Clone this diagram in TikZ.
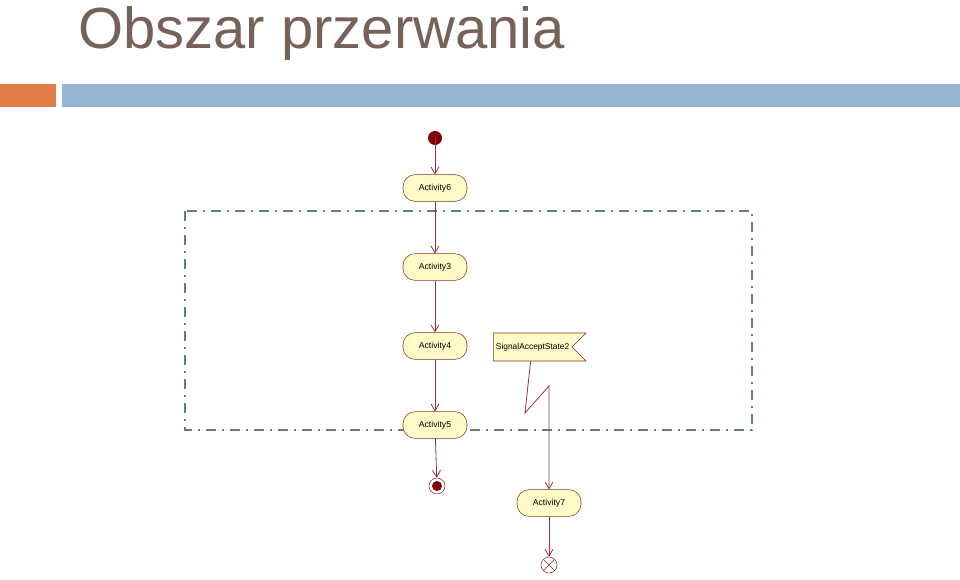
\documentclass[tikz,border=0pt]{standalone}
\usepackage{fontspec}
\setmainfont{Liberation Sans}
\usetikzlibrary{shapes.symbols,arrows.meta}
\begin{document}
\begin{tikzpicture}[x=0.75pt, y=-0.75pt,
    activity/.style={draw=colorEdge, fill=colorFill, rounded corners=9pt, minimum width=48pt, minimum height=20pt, inner sep=0pt, font=\fontsize{6.5}{7}\selectfont},
    flow/.style={draw=colorFlow, line width=0.6pt, -{Straight Barb[length=5pt, width=6pt]}}]
    % Couleurs
    \definecolor{colorTitle}{RGB}{118,98,88}
    \definecolor{colorOrange}{RGB}{224,128,72}
    \definecolor{colorBlue}{RGB}{148,180,212}
    \definecolor{colorEdge}{RGB}{130,50,40}
    \definecolor{colorFill}{RGB}{255,250,200}
    \definecolor{colorFlow}{RGB}{150,50,60}
    \definecolor{colorDot}{RGB}{130,0,0}
    \definecolor{colorRegion}{RGB}{95,125,145}

    \useasboundingbox (0,0) rectangle (960,579);

    % Titre et barres
    \node[anchor=base west, inner sep=0pt, colorTitle, font=\fontsize{43.5}{48}\selectfont] (title) at (78,48) {Obszar przerwania};
    \fill[colorOrange] (0,84) rectangle (56,107);
    \fill[colorBlue] (62,84) rectangle (960,107);

    % Zone d'interruption
    \draw[colorRegion, line width=1.4pt, dash pattern=on 7.5pt off 4.5pt on 1.5pt off 4.5pt] (185,211) rectangle (752,430);

    % Noeuds
    \fill[colorDot] (435,138) circle (7) coordinate (start);
    \node[activity] (a6) at (435,188) {Activity6};
    \node[activity] (a3) at (435,267) {Activity3};
    \node[activity] (a4) at (435,346) {Activity4};
    \node[activity] (a5) at (435,425) {Activity5};
    \node[draw=colorEdge, fill=white, circle, minimum size=12pt, inner sep=0pt] (end) at (437,486) {};
    \fill[colorDot] (end) circle (5);
    \node[draw=colorEdge, fill=colorFill, shape=signal, signal from=east, signal to=nowhere, signal pointer angle=90,
          minimum height=21pt, inner xsep=2pt, inner ysep=1pt, font=\fontsize{6.3}{7}\selectfont,
          anchor=west] (sig) at (493,347) {SignalAcceptState2};
    \node[activity] (a7) at (549,503) {Activity7};
    \node[draw=colorEdge, circle, minimum size=12pt, inner sep=0pt] (stop) at (549,565) {};
    \draw[colorEdge] (stop.north west) -- (stop.south east) (stop.north east) -- (stop.south west);

    % Flux
    \draw[flow] (start) -- (a6);
    \draw[flow] (a6) -- (a3);
    \draw[flow] (a3) -- (a4);
    \draw[flow] (a4) -- (a5);
    \draw[flow] (a5) -- (end);
    \coordinate (z1) at (525,413);
    \coordinate (z2) at (549,386);
    \draw[flow] (sig.south) ++(-2,0) -- (z1) -- (z2) -- (a7);
    \draw[flow] (a7) -- (stop);
\end{tikzpicture}
\end{document}
